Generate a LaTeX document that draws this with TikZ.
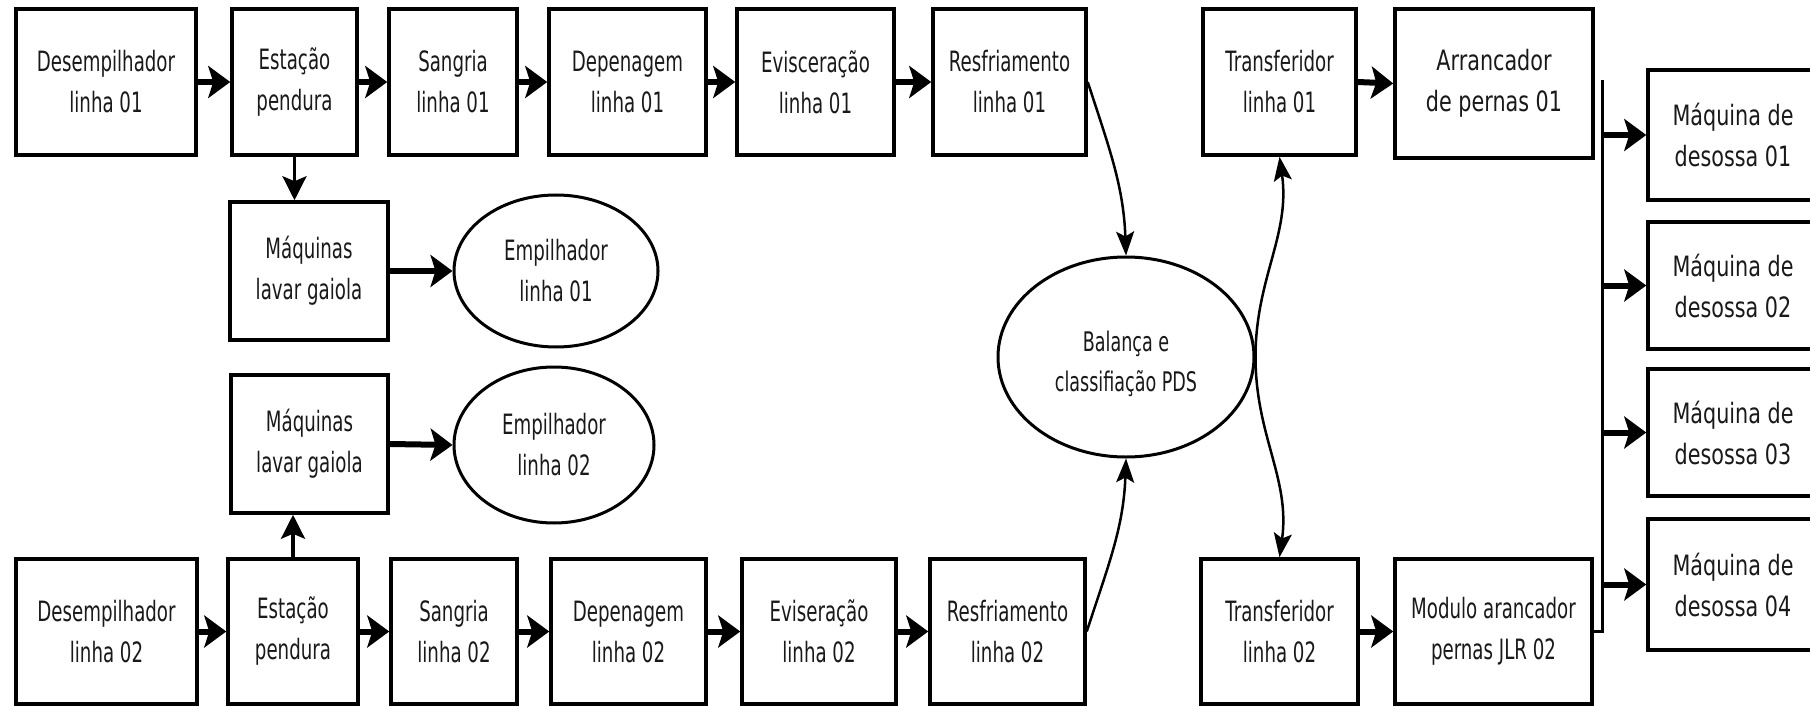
\documentclass[tikz,border=0pt]{standalone}
\usepackage{fontspec}
\usetikzlibrary{shapes.geometric,arrows.meta}
\newfontfamily\cond[FakeStretch=0.65]{DejaVu Sans}
\newfontfamily\condw[FakeStretch=0.74]{DejaVu Sans}
\tikzset{
  box/.style={draw, rectangle, line width=3.5pt, inner sep=0pt, align=center,
    font=\cond\fontsize{28}{41}\selectfont, text=black!90},
  wbox/.style={box, font=\condw\fontsize{28}{41}\selectfont},
  oval/.style={draw, ellipse, line width=3pt, inner sep=0pt, align=center,
    font=\cond\fontsize{28}{41}\selectfont, text=black!90},
  arr/.style={line width=6pt, -{Stealth[length=22pt,width=32pt,inset=5pt]}},
  varr/.style={line width=3.5pt, -{Stealth[length=24pt,width=24pt,inset=5pt]}},
  carr/.style={line width=2.5pt, -{Stealth[length=24pt,width=18pt,inset=5pt]}},
  bus/.style={line width=3pt},
}
\begin{document}
\begin{tikzpicture}[x=1pt,y=-1pt]
\useasboundingbox (0,0) rectangle (1810,706);
\clip (0,0) rectangle (1810,706);
\fill[white] (0,0) rectangle (1810,706);
% top row
\node[box, minimum width=180pt, minimum height=146pt] (d1) at (106,82) {Desempilhador\\linha 01};
\node[box, minimum width=125pt, minimum height=146pt] (e1) at (294.5,82) {Estação\\pendura};
\node[box, minimum width=128pt, minimum height=146pt] (s1) at (453,82) {Sangria\\linha 01};
\node[box, minimum width=157pt, minimum height=146pt] (p1) at (627.5,82) {Depenagem\\linha 01};
\node[box, minimum width=157pt, minimum height=146pt] (v1) at (815.5,82) {Evisceração\\linha 01};
\node[box, minimum width=153pt, minimum height=146pt] (r1) at (1009.5,82) {Resfriamento\\linha 01};
\node[box, minimum width=153pt, minimum height=146pt] (t1) at (1279.5,82) {Transferidor\\linha 01};
\node[wbox, minimum width=198pt, minimum height=149pt] (a1) at (1494,83.5) {Arrancador\\de pernas 01};
% bottom row
\node[box, minimum width=181pt, minimum height=145pt] (d2) at (106.5,631.5) {Desempilhador\\linha 02};
\node[box, minimum width=130pt, minimum height=145pt] (e2) at (293,631.5) {Estação\\pendura};
\node[box, minimum width=126pt, minimum height=145pt] (s2) at (454,631.5) {Sangria\\linha 02};
\node[box, minimum width=155pt, minimum height=145pt] (p2) at (628.5,631.5) {Depenagem\\linha 02};
\node[box, minimum width=154pt, minimum height=145pt] (v2) at (819,631.5) {Eviseração\\linha 02};
\node[box, minimum width=155pt, minimum height=145pt] (r2) at (1007.5,631.5) {Resfriamento\\linha 02};
\node[box, minimum width=157pt, minimum height=145pt] (t2) at (1279.5,631.5) {Transferidor\\linha 02};
\node[box, minimum width=197pt, minimum height=145pt] (m2) at (1493.5,631.5) {Modulo arancador\\pernas JLR 02};
% middle
\node[box, minimum width=158pt, minimum height=138pt] (w1) at (309,271) {Máquinas\\lavar gaiola};
\node[box, minimum width=157pt, minimum height=138pt] (w2) at (309.5,444) {Máquinas\\lavar gaiola};
\node[oval, minimum width=204pt, minimum height=152pt] (k1) at (556,271) {Empilhador\\linha 01};
\node[oval, minimum width=200pt, minimum height=156pt] (k2) at (554,445) {Empilhador\\linha 02};
\node[oval, minimum width=256pt, minimum height=200pt, text height=74pt,
  font=\cond\fontsize{27}{40}\selectfont] (b) at (1126,357) {Balança e\\classifiação PDS};
% desossa
\node[wbox, minimum width=170pt, minimum height=130pt] (q1) at (1733,135) {Máquina de\\desossa 01};
\node[wbox, minimum width=170pt, minimum height=127pt] (q2) at (1733,285.5) {Máquina de\\desossa 02};
\node[wbox, minimum width=170pt, minimum height=127pt] (q3) at (1733,432.5) {Máquina de\\desossa 03};
\node[wbox, minimum width=170pt, minimum height=131pt] (q4) at (1733,584.5) {Máquina de\\desossa 04};
% straight arrows
\foreach \a/\b in {d1/e1,e1/s1,s1/p1,p1/v1,v1/r1,t1/a1,d2/e2,e2/s2,s2/p2,p2/v2,v2/r2,t2/m2,w1/k1,w2/k2}
  \draw[arr] (\a.east) -- (\b.west);
\draw[varr] (e1.south) -- (e1.south |- w1.north);
\draw[varr] (e2.north) -- (e2.north |- w2.south);
% curved arrows
\draw[carr] (r1.east) to[out=-72,in=92] (b.north);
\draw[carr] (r2.east) to[out=72,in=-92] (b.south);
\draw[carr] (b.east) to[out=90,in=-82] (t1.south);
\draw[carr] (b.east) to[out=-90,in=82] (t2.north);
% bus to desossa
\coordinate (L1) at (1602,80);
\draw[bus] (m2.east) -| (L1);
\foreach \q in {q1,q2,q3,q4}
  \draw[arr] (\q.west -| L1) -- (\q.west);
\end{tikzpicture}
\end{document}
